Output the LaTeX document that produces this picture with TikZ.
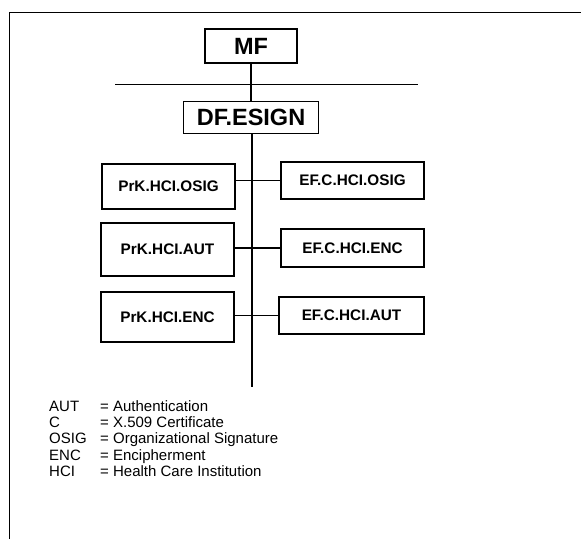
\documentclass[tikz,border=0pt]{standalone}
\usepackage{fontspec}
\setmainfont{Liberation Sans}
\begin{document}
\begin{tikzpicture}[x=1pt,y=-1pt,
  box/.style={draw,line width=1.2pt,inner sep=0pt,font=\bfseries\fontsize{15.3}{18}\selectfont},
  bigbox/.style={box,font=\bfseries\fontsize{23.5}{27}\selectfont},
  conn/.style={line width=1.2pt}]
\useasboundingbox (0,0) rectangle (581,539);
% frame
\coordinate (ftl) at (9.5,12.5);
\coordinate (ftr) at (581,12.5);
\coordinate (fbl) at (9.5,539);
\draw[line width=1.3pt] (fbl) -- (ftl) -- (ftr);
% nodes
\node[bigbox,minimum width=92,minimum height=34] (MF) at (251,46) {MF};
\node[bigbox,minimum width=135,minimum height=32] (DF) at (251,117.5) {DF.ESIGN};
\node[box,minimum width=133,minimum height=45] (PO) at (168.5,186.5) {PrK.HCI.OSIG};
\node[box,minimum width=133,minimum height=53] (PA) at (167.5,249.5) {PrK.HCI.AUT};
\node[box,minimum width=133,minimum height=50] (PE) at (167.5,317) {PrK.HCI.ENC};
\node[box,minimum width=143,minimum height=37] (EO) at (352.5,180.5) {EF.C.HCI.OSIG};
\node[box,minimum width=143,minimum height=38] (EE) at (352.5,248) {EF.C.HCI.ENC};
\node[box,minimum width=145,minimum height=37] (EA) at (351.5,315.5) {EF.C.HCI.AUT};
% connectors
\coordinate (hl) at (115,84.5);
\coordinate (hr) at (418,84.5);
\coordinate (tb) at (252,387);
\draw[conn] (hl) -- (hr);
\draw[conn] (MF.south) -- (DF.north);
\draw[conn] (DF.south -| tb) -- (tb);
\draw[conn] (EO.west) -- (EO.west -| PO.east);
\draw[conn] (EE.west) -- (EE.west -| PA.east);
\draw[conn] (EA.west) -- (EA.west -| PE.east);
% legend
\node[anchor=north west,align=left,inner sep=0pt,font=\fontsize{15}{16.4}\selectfont] (leg) at (49,400)
{\makebox[51pt][l]{AUT}= Authentication\\
 \makebox[51pt][l]{C}= X.509 Certificate\\
 \makebox[51pt][l]{OSIG}= Organizational Signature\\
 \makebox[51pt][l]{ENC}= Encipherment\\
 \makebox[51pt][l]{HCI}= Health Care Institution};
\end{tikzpicture}
\end{document}
